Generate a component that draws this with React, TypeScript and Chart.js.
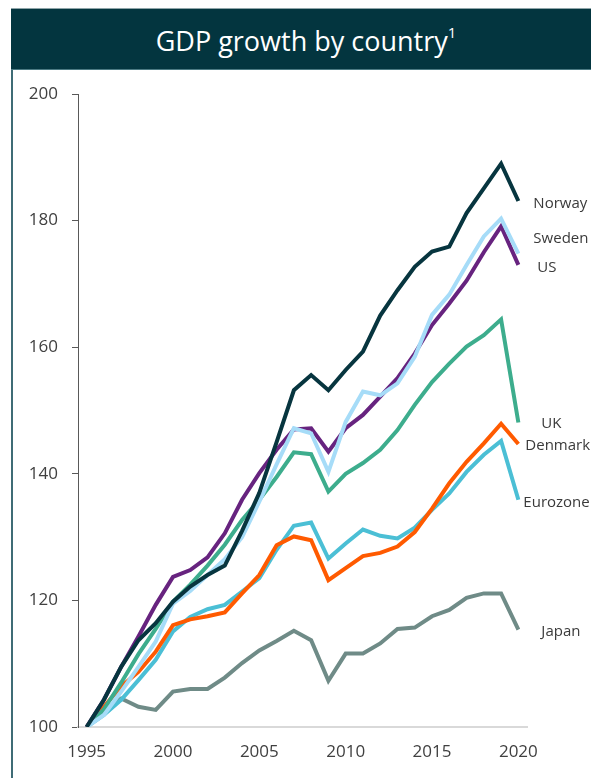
import React, { useEffect, useRef } from 'react';
import { Chart, registerables } from 'chart.js';

Chart.register(...registerables);

const years = ['1995','1996','1997','1998','1999','2000','2001','2002','2003','2004','2005','2006','2007','2008','2009','2010','2011','2012','2013','2014','2015','2016','2017','2018','2019','2020'];
const xTickLabels = ['1995', '2000', '2005', '2010', '2015', '2020'];
const yTickValues = [100, 120, 140, 160, 180, 200];

const norway = [100, 104.3, 109.5, 113.7, 116.4, 119.8, 122.2, 124.0, 125.5, 131.0, 137.0, 145.0, 153.2, 155.6, 153.2, 156.4, 159.3, 165.0, 169.0, 172.7, 175.1, 175.9, 181.2, 185.1, 189.0, 183.1];
const sweden = [100, 101.9, 105.6, 109.5, 113.5, 119.5, 121.5, 124.0, 126.5, 130.0, 135.6, 141.5, 147.2, 146.4, 140.3, 148.2, 153.0, 152.4, 154.3, 158.5, 165.1, 168.3, 173.0, 177.5, 180.3, 174.8];
const us = [100, 104.3, 109.5, 114.3, 119.3, 123.7, 124.8, 126.8, 130.6, 135.9, 140.1, 143.8, 147.0, 147.2, 143.5, 147.2, 149.3, 152.2, 155.1, 159.0, 163.5, 166.9, 170.5, 175.0, 179.1, 173.0];
const uk = [100, 102.8, 107.0, 111.5, 115.5, 119.8, 122.5, 125.5, 128.8, 132.7, 135.9, 139.5, 143.4, 143.1, 137.2, 140.0, 141.7, 143.8, 146.9, 150.9, 154.5, 157.4, 160.1, 161.9, 164.4, 148.1];
const denmark = [100, 103.2, 106.4, 108.7, 111.9, 116.1, 117.0, 117.5, 118.1, 121.1, 124.0, 128.7, 130.1, 129.5, 123.2, 125.1, 127.0, 127.5, 128.5, 130.8, 134.5, 138.5, 141.9, 144.8, 147.9, 144.7];
const eurozone = [100, 101.9, 104.3, 107.4, 110.6, 115.1, 117.4, 118.6, 119.3, 121.4, 123.5, 128.0, 131.8, 132.3, 126.6, 129.0, 131.2, 130.2, 129.8, 131.5, 134.3, 136.9, 140.3, 143.0, 145.2, 135.9];
const japan = [100, 102.7, 104.5, 103.2, 102.7, 105.6, 106.0, 106.0, 107.8, 110.1, 112.1, 113.6, 115.2, 113.7, 107.3, 111.6, 111.6, 113.2, 115.5, 115.7, 117.5, 118.5, 120.4, 121.1, 121.1, 115.4];

const seriesNames = ['Norway', 'Sweden', 'US', 'UK', 'Denmark', 'Eurozone', 'Japan'];
const seriesValues = [norway, sweden, us, uk, denmark, eurozone, japan];
const seriesColors = ['#07353f', '#a6dcf8', '#67237f', '#3dad8d', '#ff5a00', '#4bbfd5', '#6f8b87'];

// label placement offsets relative to the last point (pixels)
const labelOffsets: Record<string, [number, number]> = {
  Norway: [15, 2.5],
  Sweden: [15, -14.5],
  US: [19, 2.5],
  UK: [23, 1],
  Denmark: [7, 2],
  Eurozone: [5, 3],
  Japan: [23, 2.5],
};

const endLabels = {
  id: 'endLabels',
  afterDatasetsDraw(chart: any) {
    const ctx = chart.ctx;
    ctx.save();
    ctx.font = '15px "Open Sans"';
    ctx.fillStyle = '#3a3a3a';
    ctx.textAlign = 'left';
    ctx.textBaseline = 'middle';
    chart.data.datasets.forEach((ds: any, i: number) => {
      const meta = chart.getDatasetMeta(i);
      const pt = meta.data[meta.data.length - 1];
      const off = labelOffsets[ds.label] || [10, 0];
      ctx.fillText(ds.label, pt.x + off[0], pt.y + off[1]);
    });
    ctx.restore();
  },
};

function GdpChart() {
  const ref = useRef<HTMLCanvasElement>(null);
  useEffect(() => {
    if (!ref.current) return;
    const chart = new Chart(ref.current, {
      type: 'line',
      data: {
        labels: years,
        datasets: seriesNames.map((name, i) => ({
          label: name,
          data: seriesValues[i],
          borderColor: seriesColors[i],
          backgroundColor: seriesColors[i],
          borderWidth: 4,
          pointRadius: 0,
          tension: 0,
          fill: false,
        })),
      },
      options: {
        animation: false,
        responsive: false,
        devicePixelRatio: 1,
        layout: { padding: { top: 19, right: 64, bottom: 0, left: 0 } },
        plugins: {
          legend: { display: false },
          tooltip: { enabled: false },
          title: { display: false },
        },
        scales: {
          x: {
            type: 'category',
            offset: true,
            grid: { display: false, drawTicks: false },
            border: { display: true, color: '#d9d9d9', width: 2 },
            ticks: {
              autoSkip: false,
              maxRotation: 0,
              padding: 15,
              color: '#404040',
              font: { family: '"Open Sans"', size: 17 },
              callback: function (this: any, value: any) {
                const lab = this.getLabelForValue(value);
                return xTickLabels.includes(lab) ? lab : '';
              },
            },
            afterFit: (s: any) => { s.height = 51; s.paddingLeft = 0; s.paddingRight = 0; },
          },
          y: {
            min: 100,
            max: 200,
            grid: { display: true, drawOnChartArea: false, drawTicks: true, tickLength: 6, color: '#595959', lineWidth: 1 },
            border: { display: true, color: '#595959', width: 1 },
            afterBuildTicks: (s: any) => { s.ticks = yTickValues.map((v) => ({ value: v })); },
            ticks: {
              padding: 14,
              color: '#404040',
              font: { family: '"Open Sans"', size: 17 },
            },
            afterFit: (s: any) => { s.width = 58; s.paddingTop = 0; s.paddingBottom = 0; },
          },
        },
      },
      plugins: [endLabels],
    });
    return () => chart.destroy();
  }, []);
  return (
    <canvas
      ref={ref}
      width={571}
      height={703}
      style={{ position: 'absolute', left: 20, top: 75, width: 571, height: 703 }}
    />
  );
}

export default function App() {
  return (
    <div style={{ position: 'fixed', left: 0, top: 0, width: 591, height: 778, overflow: 'hidden', background: '#ffffff', fontFamily: '"Open Sans", sans-serif' }}>
      <div style={{ position: 'absolute', left: 11, top: 8, width: 2, height: 770, background: '#3f6c76' }} />
      <div
        style={{
          position: 'absolute', left: 11, top: 8, width: 580, height: 62,
          background: '#03353f', borderTop: '1px solid #8fa5a9', borderBottom: '1px solid #4b7a83',
          boxSizing: 'border-box', display: 'flex', alignItems: 'center', justifyContent: 'center',
          color: '#ffffff', fontSize: 27, paddingTop: 2, paddingLeft: 10,
        }}
      >
        <span>GDP growth by country<sup style={{ fontSize: 15, position: 'relative', top: -3 }}>1</sup></span>
      </div>
      <GdpChart />
    </div>
  );
}
